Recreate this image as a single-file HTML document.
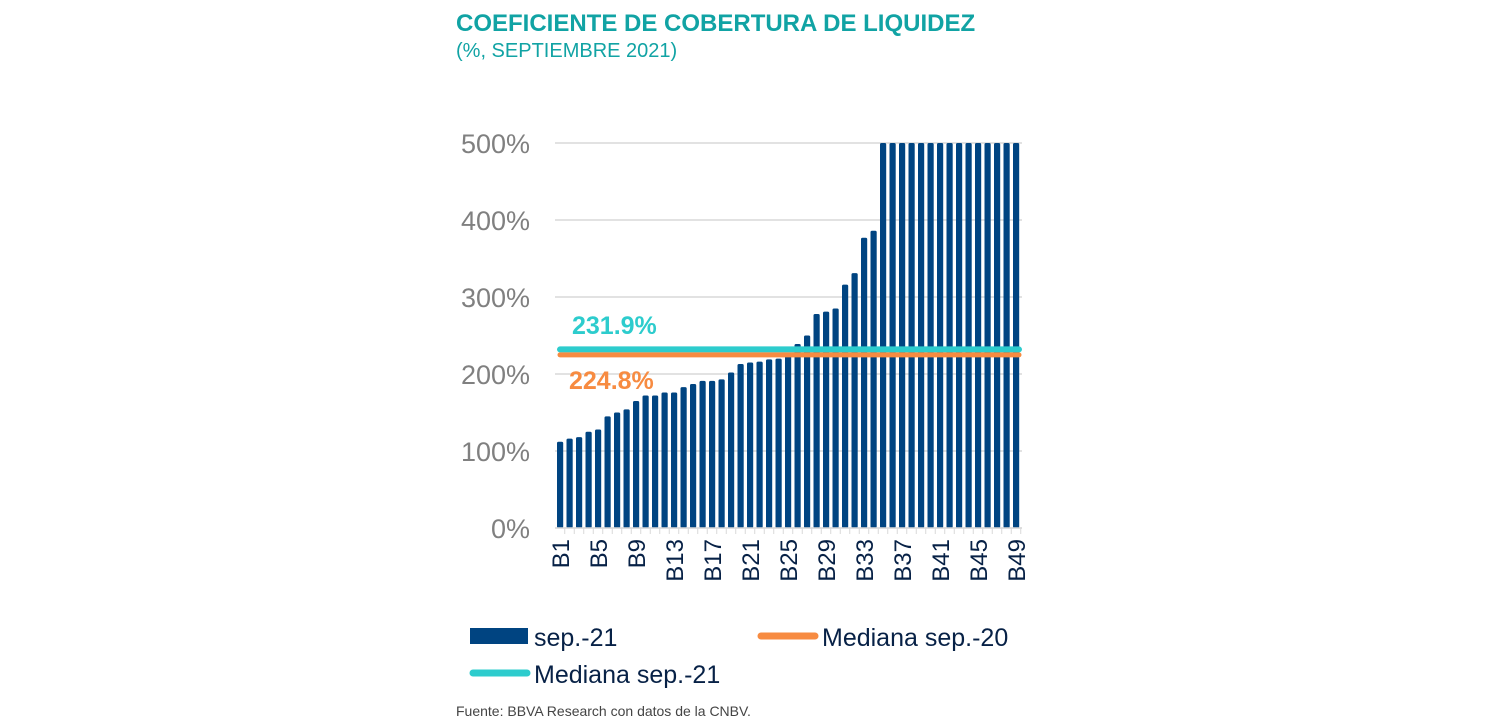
<!DOCTYPE html>
<html><head><meta charset="utf-8"><style>
body{margin:0;background:#fff;width:1501px;height:728px;overflow:hidden;font-family:"Liberation Sans",sans-serif}
</style></head><body>
<div style="position:absolute;left:456px;top:10px;color:#11a3a4;font-weight:bold;font-size:24px">COEFICIENTE DE COBERTURA DE LIQUIDEZ</div>
<div style="position:absolute;left:456px;top:40px;color:#11a3a4;font-size:20px">(%, SEPTIEMBRE 2021)</div>
<svg id="c" width="1501" height="728" style="position:absolute;left:0;top:0"></svg>
<div style="position:absolute;left:456px;top:703px;color:#444;font-size:14px">Fuente: BBVA Research con datos de la CNBV.</div>
<script>
const categories=[];for(let i=1;i<=49;i++)categories.push('B'+i);
const values=[112,116,118,125,128,145,150,154,165,172,172,176,176,183,187,191,191,193,202,213,215,216,219,220,224,239,250,278,281,285,316,331,377,386,500,500,500,500,500,500,500,500,500,500,500,500,500,500,500];
const yTicks=[0,100,200,300,400,500];
const median20=224.8, median21=231.9;
const s=document.getElementById('c'),NS='http://www.w3.org/2000/svg';
function el(t,a,txt){const e=document.createElementNS(NS,t);for(const k in a)e.setAttribute(k,a[k]);if(txt!=null)e.textContent=txt;s.appendChild(e);return e;}
const y=v=>528-v*0.77, x=i=>560+i*9.5;
yTicks.forEach(t=>{
 const g=el('line',{x1:555,x2:1022,y1:y(t),y2:y(t),stroke:'#d9d9d9','stroke-width':1.5});
 
 
 const l=el('text',{x:530,y:y(t)+10,'text-anchor':'end','font-size':27,fill:'#808080'},t+'%');
 
 
});
values.forEach((v,i)=>{
 const r=el('rect',{x:x(i)-3,y:y(v),width:6.2,height:528-y(v),fill:'#004481',rx:1.5});
 
 
 const tk=el('line',{x1:x(i)+4.75,x2:x(i)+4.75,y1:528,y2:534,stroke:'#d9d9d9'});
 
 
 if(i%4==0){const t=el('text',{transform:`translate(${x(i)+9},${539}) rotate(-90)`,'text-anchor':'end','font-size':24,fill:'#072146'},categories[i]);
 
 }
});
const a=el('line',{x1:555,x2:1022,y1:528,y2:528,stroke:'#d9d9d9','stroke-width':1.5});


const m1=el('line',{x1:560,x2:1019,y1:y(median21),y2:y(median21),stroke:'#2dcccd','stroke-width':6,'stroke-linecap':'round'});


const m2=el('line',{x1:560,x2:1019,y1:y(median20),y2:y(median20),stroke:'#f78b41','stroke-width':5,'stroke-linecap':'round'});


const t1=el('text',{x:572,y:334,'font-size':25,'font-weight':'bold',fill:'#2dcccd'},median21.toFixed(1)+'%');


const t2=el('text',{x:569,y:389,'font-size':25,'font-weight':'bold',fill:'#f78b41'},median20.toFixed(1)+'%');


const leg=[[470,628,'rect','#004481','sep.-21'],[758,628,'line','#f78b41','Mediana sep.-20'],[470,665,'line','#2dcccd','Mediana sep.-21']];
leg.forEach(([lx,ly,k,c,lab])=>{
 if(k=='rect'){const r=el('rect',{x:lx,y:ly,width:58,height:16,fill:c});}
 else{const l=el('line',{x1:lx+3,x2:lx+57,y1:ly+8,y2:ly+8,stroke:c,'stroke-width':7,'stroke-linecap':'round'});}
 const t=el('text',{x:lx+64,y:ly+18,'font-size':25,fill:'#072146'},lab);
 
 
});
</script>
</body></html>
